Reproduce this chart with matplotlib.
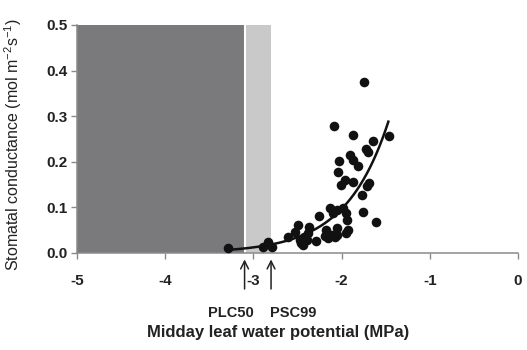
import numpy as np
import matplotlib
matplotlib.use("Agg")
import matplotlib.pyplot as plt

plt.rcParams['font.family'] = ['Liberation Sans', 'DejaVu Sans']
plt.rcParams['mathtext.fontset'] = 'custom'
plt.rcParams['mathtext.rm'] = 'Liberation Sans'

# Data
psi = [-1.743, -2.086, -1.874, -1.647, -1.463, -1.723, -1.704, -1.905, -2.026, -1.874,
       -1.811, -2.037, -1.958, -2.010, -1.867, -1.693, -1.715, -1.772, -1.754, -1.610,
       -2.256, -2.132, -2.094, -2.056, -1.981, -1.950, -1.935, -1.924, -1.950, -2.056,
       -2.056, -2.151, -2.177, -2.290, -2.366, -2.378, -2.426, -2.434, -2.491, -2.528,
       -2.472, -2.604, -2.831, -2.888, -2.792, -3.291, -2.455, -2.397, -2.190, -2.113,
       -2.075]
gs = [0.376, 0.279, 0.259, 0.246, 0.257, 0.227, 0.221, 0.216, 0.202, 0.204,
      0.191, 0.178, 0.160, 0.149, 0.156, 0.154, 0.147, 0.127, 0.091, 0.069,
      0.082, 0.098, 0.087, 0.094, 0.098, 0.087, 0.072, 0.050, 0.043, 0.054,
      0.039, 0.032, 0.050, 0.026, 0.058, 0.043, 0.036, 0.018, 0.061, 0.047,
      0.029, 0.036, 0.025, 0.014, 0.014, 0.012, 0.022, 0.028, 0.038, 0.040,
      0.034]

fit_a = 5.95
fit_b = 2.06
fit_range = (-3.29, -1.47)

plc50 = -3.1
psc99 = -2.8

xticks = [-5, -4, -3, -2, -1, 0]
yticks = [0.0, 0.1, 0.2, 0.3, 0.4, 0.5]

fig = plt.figure(figsize=(5.27, 3.5), dpi=100)
ax = fig.add_axes([77/527, 1 - 253/350, (518 - 77)/527, (253 - 25)/350])

ax.axvspan(-5, plc50, color='#7a7a7d', lw=0, zorder=0)
ax.axvspan(plc50, psc99, color='#c9c9c9', lw=0, zorder=0)
ax.axvline(plc50, color='white', lw=1.5, zorder=0.5)

xf = np.linspace(fit_range[0], fit_range[1], 200)
ax.plot(xf, fit_a * np.exp(fit_b * xf), color='#111111', lw=1.8, zorder=2)
ax.scatter(psi, gs, s=48, color='#111111', zorder=3, linewidths=0)

ax.set_xlim(-5, 0)
ax.set_ylim(0, 0.5)
ax.set_xticks(xticks)
ax.set_xticklabels([str(t) for t in xticks])
ax.set_yticks(yticks)
ax.set_yticklabels([f"{t:.1f}" for t in yticks])

for s in ['top', 'right']:
    ax.spines[s].set_visible(False)
for s in ['left', 'bottom']:
    ax.spines[s].set_color('#8a8a8a')
    ax.spines[s].set_linewidth(1.1)
ax.tick_params(axis='both', colors='#8a8a8a', length=4, width=1.0,
               labelsize=11, labelcolor='#222222')
for lab in ax.get_xticklabels() + ax.get_yticklabels():
    lab.set_fontweight('bold')
ax.tick_params(axis='x', pad=11)
ax.tick_params(axis='y', pad=3)

fig.text(278/527, 1 - 333/350, 'Midday leaf water potential (MPa)', fontsize=12,
         fontweight='bold', color='#222222', ha='center', va='center')
fig.text(13/527, 1 - 145/350, 'Stomatal conductance (mol m$^{-2}$s$^{-1}$)',
         fontsize=11.5, color='#222222', ha='center', va='center', rotation=90)

for xv, name, dx in [(plc50, 'PLC50', -0.15), (psc99, 'PSC99', 0.25)]:
    ax.annotate('', xy=(xv, -0.008), xytext=(xv, -0.085),
                xycoords='data', textcoords='data', annotation_clip=False,
                arrowprops=dict(arrowstyle='->', color='#222222', lw=1.1,
                                mutation_scale=14))
    ax.text(xv + dx, -0.132, name, ha='center', va='center', fontsize=10.5,
            fontweight='bold', color='#222222', clip_on=False)

fig.savefig('out.png', dpi=100)
